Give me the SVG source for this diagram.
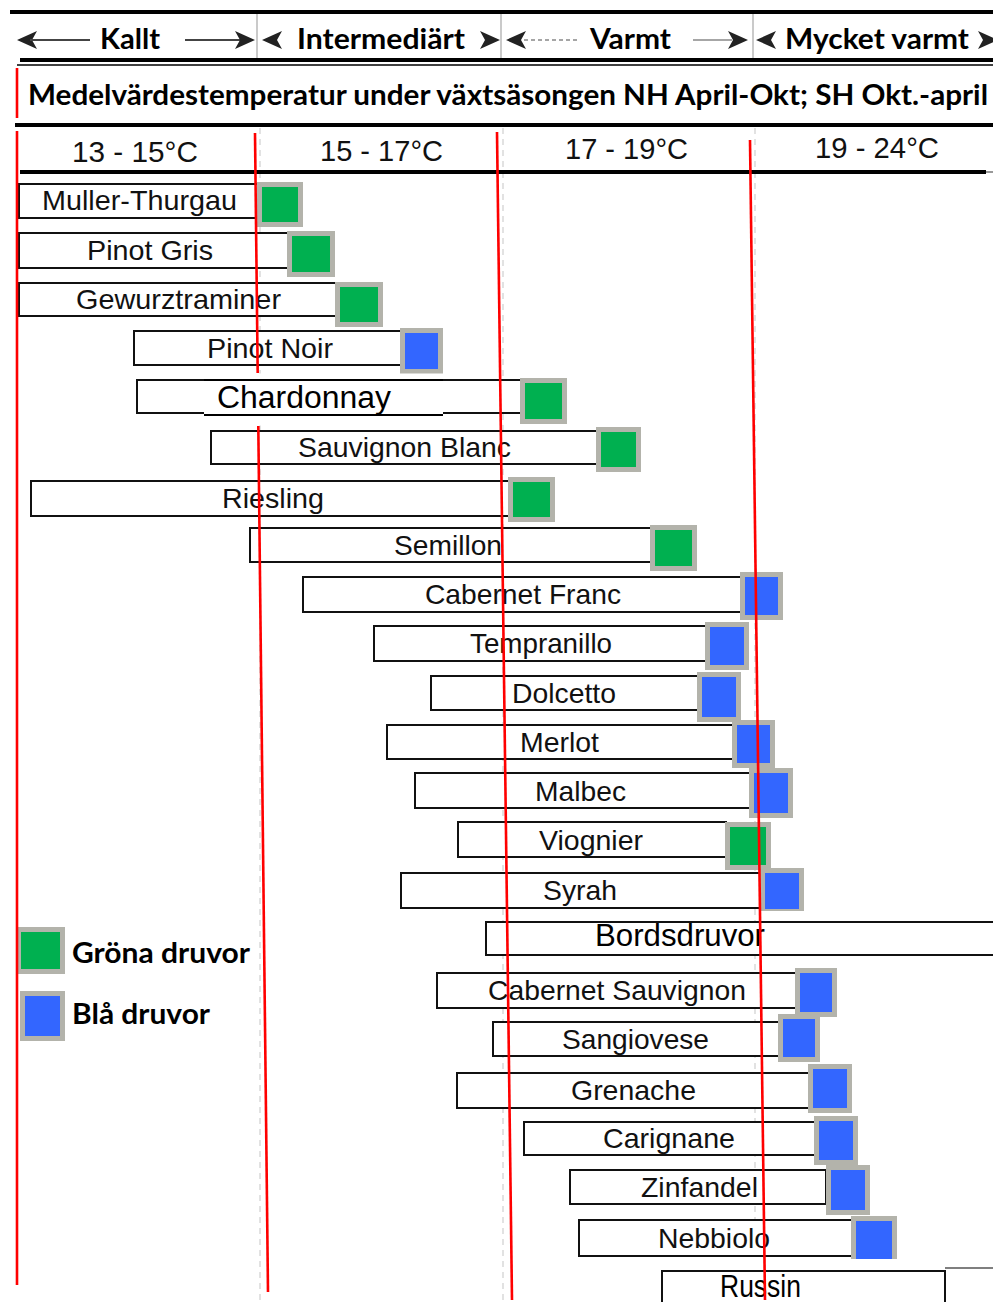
<svg xmlns="http://www.w3.org/2000/svg" width="993" height="1302" viewBox="0 0 993 1302">
<style>
.hl{stroke:#000;stroke-width:4;fill:none}
.sep{stroke:#b8b8b8;stroke-width:1.5;fill:none}
.dash{stroke:#cfcfcf;stroke-width:1.2;stroke-dasharray:6 5;fill:none}
.hd{font-family:Lato,"Open Sans","Liberation Sans",sans-serif;font-weight:700;font-size:28px;fill:#000}
.tp{font-family:"Liberation Sans",Arial,sans-serif;font-size:30px;fill:#111}
.bar{fill:#fff;stroke:#111;stroke-width:2}
.lb{font-family:"Liberation Sans",Arial,sans-serif;font-size:28px;fill:#111}
.lb2{font-family:"Liberation Sans",Arial,sans-serif;font-size:31px;fill:#000}
.g{fill:#00b050;stroke:#b3b3ab;stroke-width:5}
.b{fill:#3366ff;stroke:#b3b3ab;stroke-width:5}
.red{stroke:#ff0000;stroke-width:2.6;fill:none}
.ah{fill:#222}
.al{stroke:#444;stroke-width:2;fill:none}
</style>
<defs>
<path id="hR" d="M0,0 L-20,-9 L-15,0 L-20,9 Z"/>
</defs>
<rect x="0" y="0" width="993" height="1302" fill="#fff"/>

<g id="faint-grid">
<line class="sep" x1="257" y1="14" x2="257" y2="62"/>
<line class="sep" x1="501" y1="14" x2="501" y2="62"/>
<line class="sep" x1="753" y1="14" x2="753" y2="62"/>
<line class="dash" x1="260" y1="128" x2="260" y2="1302"/>
<line class="dash" x1="503" y1="128" x2="503" y2="1302"/>
<line class="dash" x1="755" y1="128" x2="755" y2="1302"/>
</g>

<g id="header">
<line class="hl" x1="10" y1="12" x2="993" y2="12"/>
<line class="hl" x1="20" y1="60" x2="993" y2="60"/>
<rect x="17" y="65" width="976" height="58" fill="#fff"/>
<line x1="17" y1="65" x2="993" y2="65" stroke="#000" stroke-width="1.5"/>
<line class="hl" x1="15" y1="125" x2="993" y2="125"/>
<line class="hl" x1="20" y1="172" x2="986" y2="172"/>
<line x1="986" y1="172" x2="993" y2="172" stroke="#999" stroke-width="2"/>
<text class="hd" x="100" y="49" textLength="60" lengthAdjust="spacingAndGlyphs">Kallt</text>
<text class="hd" x="297" y="49" textLength="168" lengthAdjust="spacingAndGlyphs">Intermediärt</text>
<text class="hd" x="590" y="49" textLength="81" lengthAdjust="spacingAndGlyphs">Varmt</text>
<text class="hd" x="785" y="49" textLength="184" lengthAdjust="spacingAndGlyphs">Mycket varmt</text>
<text class="hd" x="28" y="105" font-size="27" textLength="960" lengthAdjust="spacingAndGlyphs">Medelvärdestemperatur under växtsäsongen NH April-Okt; SH Okt.-april</text>
<text class="tp" x="72" y="162" textLength="126" lengthAdjust="spacingAndGlyphs">13 - 15°C</text>
<text class="tp" x="320" y="161" textLength="123" lengthAdjust="spacingAndGlyphs">15 - 17°C</text>
<text class="tp" x="565" y="159" textLength="123" lengthAdjust="spacingAndGlyphs">17 - 19°C</text>
<text class="tp" x="815" y="158" textLength="124" lengthAdjust="spacingAndGlyphs">19 - 24°C</text>
</g>

<g id="connectors">
<use href="#hR" class="ah" transform="translate(17,40) scale(-1,1)"/>
<line class="al" x1="30" y1="40" x2="90" y2="40"/>
<line class="al" x1="185" y1="40" x2="240" y2="40"/>
<use href="#hR" class="ah" transform="translate(255,40)"/>
<use href="#hR" class="ah" transform="translate(262,40) scale(-1,1)"/>
<use href="#hR" class="ah" transform="translate(500,40)"/>
<use href="#hR" class="ah" transform="translate(506,40) scale(-1,1)"/>
<line x1="524" y1="40" x2="580" y2="40" stroke="#888" stroke-width="1.5" stroke-dasharray="4 3"/>
<line x1="693" y1="40" x2="732" y2="40" stroke="#888" stroke-width="1.5"/>
<use href="#hR" class="ah" transform="translate(748,40)"/>
<use href="#hR" class="ah" transform="translate(756,40) scale(-1,1)"/>
<use href="#hR" class="ah" transform="translate(998,40)"/>
</g>

<g id="bar-muller-thurgau"><rect class="bar" x="19" y="184" width="239" height="34"/><text class="lb" x="42" y="210" textLength="195" lengthAdjust="spacingAndGlyphs">Muller-Thurgau</text><rect class="g" x="259.5" y="184.5" width="41" height="40"/></g>
<g id="bar-pinot-gris"><rect class="bar" x="19" y="233" width="270" height="35"/><text class="lb" x="87" y="260" textLength="126" lengthAdjust="spacingAndGlyphs">Pinot Gris</text><rect class="g" x="289.5" y="233.5" width="43" height="41"/></g>
<g id="bar-gewurztraminer"><rect class="bar" x="19" y="283" width="317" height="33"/><text class="lb" x="76" y="309" textLength="205" lengthAdjust="spacingAndGlyphs">Gewurztraminer</text><rect class="g" x="337.5" y="284.5" width="43" height="40"/></g>
<g id="bar-pinot-noir"><rect class="bar" x="134" y="331" width="268" height="34"/><text class="lb" x="207" y="358" textLength="126" lengthAdjust="spacingAndGlyphs">Pinot Noir</text><rect class="b" x="402.5" y="330.5" width="38" height="41"/></g>
<g id="bar-chardonnay"><rect class="bar" x="137" y="380" width="385" height="33"/><rect x="204" y="373.5" width="239" height="52" fill="#fff"/><line x1="204" y1="380" x2="443" y2="380" stroke="#000" stroke-width="2"/><line x1="204" y1="415" x2="443" y2="415" stroke="#000" stroke-width="2"/><text class="lb2" x="217" y="408" textLength="174" lengthAdjust="spacingAndGlyphs">Chardonnay</text><rect class="g" x="522.5" y="380.5" width="42" height="41"/></g>
<g id="bar-sauvignon-blanc"><rect class="bar" x="211" y="431" width="387" height="33"/><text class="lb" x="298" y="457" textLength="213" lengthAdjust="spacingAndGlyphs">Sauvignon Blanc</text><rect class="g" x="598.5" y="429.5" width="40" height="40"/></g>
<g id="bar-riesling"><rect class="bar" x="31" y="481" width="479" height="35"/><text class="lb" x="222" y="508" textLength="102" lengthAdjust="spacingAndGlyphs">Riesling</text><rect class="g" x="510.5" y="479.5" width="42" height="40"/></g>
<g id="bar-semillon"><rect class="bar" x="250" y="528" width="402" height="34"/><text class="lb" x="394" y="555" textLength="108" lengthAdjust="spacingAndGlyphs">Semillon</text><rect class="g" x="652.5" y="527.5" width="42" height="41"/></g>
<g id="bar-cabernet-franc"><rect class="bar" x="303" y="577" width="439" height="35"/><text class="lb" x="425" y="604" textLength="196" lengthAdjust="spacingAndGlyphs">Cabernet Franc</text><rect class="b" x="742.5" y="574.5" width="38" height="43"/></g>
<g id="bar-tempranillo"><rect class="bar" x="374" y="626" width="334" height="35"/><text class="lb" x="470" y="653" textLength="142" lengthAdjust="spacingAndGlyphs">Tempranillo</text><rect class="b" x="707.5" y="624.5" width="39" height="43"/></g>
<g id="bar-dolcetto"><rect class="bar" x="431" y="676" width="268" height="34"/><text class="lb" x="512" y="703" textLength="104" lengthAdjust="spacingAndGlyphs">Dolcetto</text><rect class="b" x="699.5" y="674.5" width="39" height="45"/></g>
<g id="bar-merlot"><rect class="bar" x="387" y="725" width="348" height="34"/><text class="lb" x="520" y="752" textLength="79" lengthAdjust="spacingAndGlyphs">Merlot</text><rect class="b" x="734.5" y="722.5" width="38" height="43"/></g>
<g id="bar-malbec"><rect class="bar" x="415" y="773" width="335" height="35"/><text class="lb" x="535" y="801" textLength="91" lengthAdjust="spacingAndGlyphs">Malbec</text><rect class="b" x="751.5" y="770.5" width="39" height="45"/></g>
<g id="bar-viognier"><rect class="bar" x="458" y="822" width="268" height="35"/><text class="lb" x="539" y="850" textLength="104" lengthAdjust="spacingAndGlyphs">Viognier</text><rect class="g" x="727.5" y="824.5" width="41" height="43"/></g>
<g id="bar-syrah"><rect class="bar" x="401" y="873" width="361" height="35"/><text class="lb" x="543" y="900" textLength="74" lengthAdjust="spacingAndGlyphs">Syrah</text><rect class="b" x="762.5" y="870.5" width="39" height="41"/><rect x="760" y="911" width="46" height="8" fill="#fff"/></g>
<g id="bar-bordsdruvor"><rect class="bar" x="486" y="922" width="520" height="33"/><text class="lb2" x="595" y="946" textLength="170" lengthAdjust="spacingAndGlyphs">Bordsdruvor</text></g>
<g id="bar-cabernet-sauvignon"><rect class="bar" x="437" y="973" width="360" height="35"/><text class="lb" x="488" y="1000" textLength="258" lengthAdjust="spacingAndGlyphs">Cabernet Sauvignon</text><rect class="b" x="797.5" y="970.5" width="37" height="44"/></g>
<g id="bar-sangiovese"><rect class="bar" x="493" y="1022" width="287" height="34"/><text class="lb" x="562" y="1049" textLength="147" lengthAdjust="spacingAndGlyphs">Sangiovese</text><rect class="b" x="780.5" y="1016.5" width="37" height="43"/></g>
<g id="bar-grenache"><rect class="bar" x="457" y="1073" width="353" height="35"/><text class="lb" x="571" y="1100" textLength="125" lengthAdjust="spacingAndGlyphs">Grenache</text><rect class="b" x="810.5" y="1066.5" width="39" height="44"/></g>
<g id="bar-carignane"><rect class="bar" x="524" y="1122" width="292" height="33"/><text class="lb" x="603" y="1148" textLength="132" lengthAdjust="spacingAndGlyphs">Carignane</text><rect class="b" x="816.5" y="1118.5" width="39" height="44"/></g>
<g id="bar-zinfandel"><rect class="bar" x="570" y="1170" width="256" height="34"/><text class="lb" x="641" y="1197" textLength="117" lengthAdjust="spacingAndGlyphs">Zinfandel</text><rect class="b" x="828.5" y="1167.5" width="39" height="45"/></g>
<g id="bar-nebbiolo"><rect class="bar" x="579" y="1220" width="273" height="36"/><text class="lb" x="658" y="1248" textLength="112" lengthAdjust="spacingAndGlyphs">Nebbiolo</text><rect class="b" x="853.5" y="1218.5" width="41" height="45"/></g>
<g id="bar-russin"><rect x="640" y="1259" width="353" height="43" fill="#fff"/><line x1="945" y1="1268" x2="993" y2="1268" stroke="#555" stroke-width="1.5"/><rect class="bar" x="662" y="1271" width="283" height="45"/><text class="lb2" x="720" y="1297" font-size="29" textLength="81" lengthAdjust="spacingAndGlyphs">Russin</text></g>

<g id="legend">
<g id="legend-green"><rect class="g" x="18.5" y="929.5" width="44" height="42"/><text class="hd" x="72" y="963" textLength="178" lengthAdjust="spacingAndGlyphs">Gröna druvor</text></g>
<g id="legend-blue"><rect class="b" x="22.5" y="993.5" width="40" height="45"/><text class="hd" x="72" y="1024" textLength="138" lengthAdjust="spacingAndGlyphs">Blå druvor</text></g>
</g>

<g id="dividers">
<line class="red" x1="17" y1="68" x2="17" y2="118"/>
<line class="red" x1="17" y1="131" x2="17" y2="1285"/>
<line class="red" x1="255" y1="133" x2="257.7" y2="373"/>
<line class="red" x1="258.3" y1="426" x2="268" y2="1292"/>
<line class="red" x1="497" y1="132" x2="512" y2="1300"/>
<line class="red" x1="750" y1="140" x2="765" y2="1300"/>
</g>
</svg>
